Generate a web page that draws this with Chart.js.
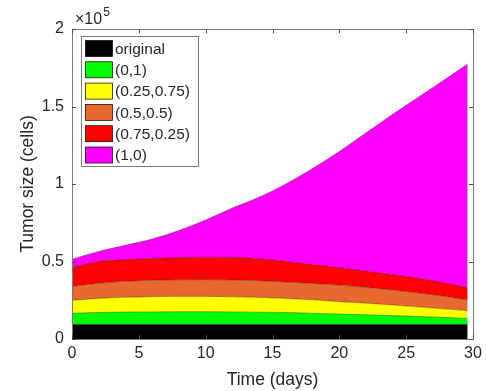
<!DOCTYPE html>
<html>
<head>
<meta charset="utf-8">
<script src="https://cdn.jsdelivr.net/npm/chart.js@4/dist/chart.umd.min.js"></script>
<style>
  html, body { margin: 0; padding: 0; background: #fff; }
  #wrap { width: 487px; height: 391px; }
</style>
</head>
<body>
<div id="wrap"><canvas id="c" width="487" height="391"></canvas></div>
<script>
// time points (days)
var days = [0, 2, 4, 6, 8, 10, 12, 14, 16, 18, 20, 22, 24, 26, 28, 29.6];

// upper edge of each stacked band (cells)
var original = [9400, 9400, 9400, 9400, 9400, 9400, 9400, 9400, 9400, 9400, 9400, 9400, 9400, 9400, 9400, 9400];
var s01 = [16600, 17100, 17400, 17500, 17600, 17600, 17500, 17300, 17100, 16600, 16100, 15600, 15100, 14500, 13900, 13300];
var s025 = [24900, 26200, 26900, 27300, 27500, 27500, 27200, 26800, 26200, 25300, 24100, 23100, 21900, 20600, 19300, 18300];
var s05 = [33800, 36000, 37200, 37900, 38200, 38300, 38100, 37600, 36800, 35800, 34800, 33300, 31600, 29600, 27400, 25200];
var s075 = [46000, 50000, 51200, 52000, 52600, 52800, 52700, 51800, 50000, 48000, 46000, 43800, 41500, 39000, 36000, 33100];
var s1 = [51500, 56500, 60500, 64500, 70000, 76800, 84500, 91500, 100000, 110000, 121000, 133000, 145000, 156500, 168000, 177400];

var labels = ['original', '(0,1)', '(0.25,0.75)', '(0.5,0.5)', '(0.75,0.25)', '(1,0)'];
var colors = ['#000000', '#00ff00', '#ffff00', '#e8692f', '#ff0000', '#ff00ff'];
var series = [original, s01, s025, s05, s075, s1];

var xTicks = [0, 5, 10, 15, 20, 25, 30];
var yTicks = [0, 50000, 100000, 150000, 200000];

var FONT = 'Liberation Sans, Arial, Helvetica, sans-serif';
var TXT = '#262626';

var datasets = series.map(function (s, i) {
  return {
    label: labels[i],
    data: s.map(function (v, j) { return { x: days[j], y: v }; }),
    backgroundColor: colors[i],
    borderColor: 'rgba(0,0,0,0.55)',
    borderWidth: 0.6,
    pointRadius: 0,
    cubicInterpolationMode: 'monotone',
    fill: i === 0 ? 'origin' : '-1'
  };
});

// inward ticks, box and the x10^5 exponent
var matlabAxes = {
  id: 'matlabAxes',
  afterDatasetsDraw: function (chart) {
    var ctx = chart.ctx, a = chart.chartArea;
    var xs = chart.scales.x, ys = chart.scales.y;
    ctx.save();
    ctx.strokeStyle = '#7a7a7a';
    ctx.lineWidth = 1;
    ctx.strokeRect(Math.round(a.left) + 0.5, Math.round(a.top) + 0.5,
      Math.round(a.right - a.left), Math.round(a.bottom - a.top));
    ctx.strokeStyle = '#4a4a4a';
    ctx.beginPath();
    xTicks.forEach(function (t) {
      var px = Math.round(xs.getPixelForValue(t)) + 0.5;
      ctx.moveTo(px, a.bottom); ctx.lineTo(px, a.bottom - 4);
      ctx.moveTo(px, a.top); ctx.lineTo(px, a.top + 4);
    });
    yTicks.forEach(function (t) {
      var py = Math.round(ys.getPixelForValue(t)) + 0.5;
      ctx.moveTo(a.left, py); ctx.lineTo(a.left + 4, py);
      ctx.moveTo(a.right, py); ctx.lineTo(a.right - 4, py);
    });
    ctx.stroke();

    ctx.fillStyle = TXT;
    ctx.font = '16px ' + FONT;
    ctx.textBaseline = 'alphabetic';
    ctx.textAlign = 'left';
    ctx.fillText('\u00d710', a.left + 3, a.top - 5);
    var w = ctx.measureText('\u00d710').width;
    ctx.font = '12px ' + FONT;
    ctx.fillText('5', a.left + 3 + w + 1, a.top - 13);
    ctx.restore();
  }
};

// legend box inside the axes
var boxLegend = {
  id: 'boxLegend',
  afterDraw: function (chart) {
    var ctx = chart.ctx, a = chart.chartArea;
    var x0 = a.left + 9.5, y0 = a.top + 7.5, w = 117, rowH = 21.3;
    var h = 130;
    ctx.save();
    ctx.fillStyle = '#fff';
    ctx.fillRect(x0, y0, w, h);
    ctx.strokeStyle = '#7a7a7a';
    ctx.lineWidth = 1;
    ctx.strokeRect(x0, y0, w, h);
    ctx.font = '15.5px ' + FONT;
    ctx.textBaseline = 'middle';
    ctx.textAlign = 'left';
    labels.forEach(function (lab, i) {
      var cy = y0 + 12 + i * rowH;
      ctx.fillStyle = colors[i];
      ctx.fillRect(x0 + 4, cy - 8, 27, 16);
      ctx.strokeStyle = '#000';
      ctx.lineWidth = 0.7;
      ctx.strokeRect(x0 + 4, cy - 8, 27, 16);
      ctx.fillStyle = TXT;
      ctx.fillText(lab, x0 + 33.5, cy + 1);
    });
    ctx.restore();
  }
};

new Chart(document.getElementById('c'), {
  type: 'line',
  data: { datasets: datasets },
  options: {
    responsive: false,
    animation: false,
    layout: { padding: { left: 18, top: 29, right: 14, bottom: 0 } },
    plugins: {
      legend: { display: false },
      tooltip: { enabled: false },
      filler: { propagate: false }
    },
    scales: {
      x: {
        type: 'linear',
        min: 0, max: 30,
        afterFit: function (s) { s.height = 52; },
        afterBuildTicks: function (s) { s.ticks = xTicks.map(function (v) { return { value: v }; }); },
        grid: { display: false, drawTicks: false },
        border: { display: false },
        ticks: { color: TXT, font: { family: FONT, size: 16 }, padding: 5, maxRotation: 0 },
        title: { display: true, text: 'Time (days)', color: TXT, font: { family: FONT, size: 17.5 }, padding: { top: 1, bottom: 0 } }
      },
      y: {
        type: 'linear',
        min: 0, max: 200000,
        afterFit: function (s) { s.width = 54; },
        afterBuildTicks: function (s) { s.ticks = yTicks.map(function (v) { return { value: v }; }); },
        grid: { display: false, drawTicks: false },
        border: { display: false },
        ticks: {
          color: TXT, font: { family: FONT, size: 16 }, padding: 8,
          callback: function (v) { return String(v / 100000); }
        },
        title: { display: true, text: 'Tumor size (cells)', color: TXT, font: { family: FONT, size: 17.5 }, padding: { top: 0, bottom: 0 } }
      }
    }
  },
  plugins: [matlabAxes, boxLegend]
});
</script>
</body>
</html>
